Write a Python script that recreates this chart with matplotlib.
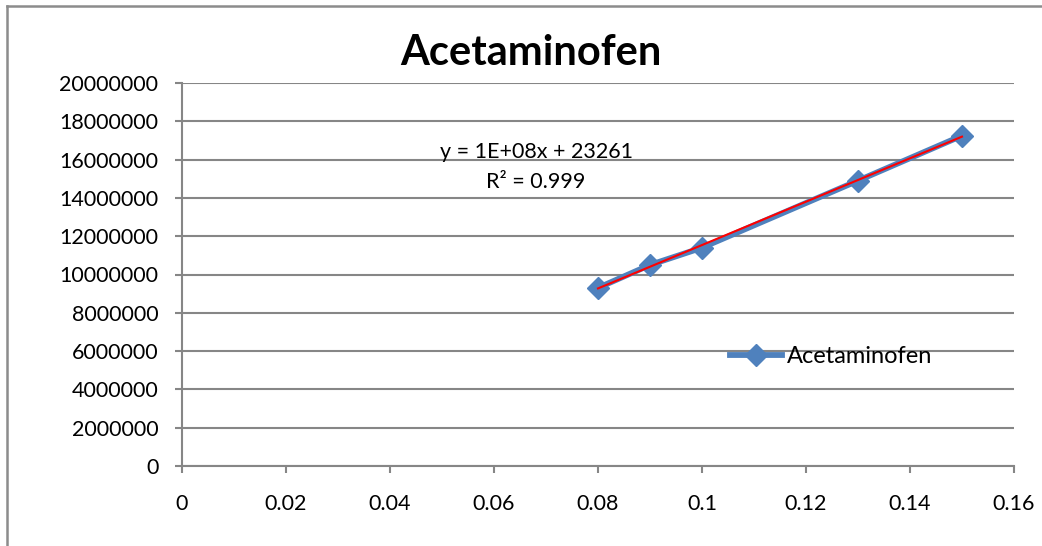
import numpy as np
import matplotlib
matplotlib.use('Agg')
import matplotlib.pyplot as plt
from matplotlib.lines import Line2D

# calibration data
conc = [0.08, 0.09, 0.10, 0.13, 0.15]
area = [9300000, 10500000, 11400000, 14900000, 17250000]
series_name = 'Acetaminofen'
chart_title = 'Acetaminofen'
eq_text = 'y = 1E+08x + 23261'
r2_text = 'R² = 0.999'
x_ticks = [0, 0.02, 0.04, 0.06, 0.08, 0.1, 0.12, 0.14, 0.16]
x_ticklabels = ['0', '0.02', '0.04', '0.06', '0.08', '0.1', '0.12', '0.14', '0.16']
y_ticks = list(range(0, 20000001, 2000000))

BLUE = '#4F81BD'
GRID = '#868686'

plt.rcParams.update({
    'font.family': ['Lato', 'DejaVu Sans'],
    'font.size': 15.5,
    'text.color': 'black',
    'xtick.color': GRID,
    'ytick.color': GRID,
    'xtick.labelcolor': 'black',
    'ytick.labelcolor': 'black',
})

W, H = 1042, 546
fig = plt.figure(figsize=(W / 100, H / 100), dpi=100)
ax = fig.add_axes([182 / W, 1 - 466 / H, 832 / W, 383 / H])

ax.plot(conc, area, color=BLUE, lw=4.2, marker='D', markersize=11,
        markeredgecolor=BLUE, label=series_name, zorder=3)

# linear trend line
slope, icpt = np.polyfit(conc, area, 1)
tx = np.array([min(conc), max(conc)])
ax.plot(tx, slope * tx + icpt, color='#FF0000', lw=1.5, zorder=4)

ax.set_xlim(0, 0.16)
ax.set_ylim(0, 20000000)
ax.set_xticks(x_ticks)
ax.set_xticklabels(x_ticklabels)
ax.set_yticks(y_ticks)
ax.set_yticklabels([str(v) for v in y_ticks])

ax.yaxis.grid(True, color=GRID, lw=1.5)
ax.set_axisbelow(True)
for s in ['top', 'right']:
    ax.spines[s].set_visible(False)
for s in ['left', 'bottom']:
    ax.spines[s].set_color(GRID)
    ax.spines[s].set_linewidth(1.5)
ax.tick_params(axis='x', direction='out', length=5, width=1.5, pad=15)
ax.tick_params(axis='y', direction='out', length=5, width=1.5, pad=12)

fig.text(531 / W, 1 - 53 / H, chart_title, fontsize=30, fontweight='bold',
         ha='center', va='center')
ax.text(0.0681, 16400000, eq_text, fontsize=15.5, ha='center', va='center')
ax.text(0.0681, 14830000, r2_text, fontsize=15.5, ha='center', va='center')

ax.legend(loc='center left', bbox_to_anchor=(0.6587, 0.2846), frameon=False,
          borderpad=0, borderaxespad=0, handlelength=2.2, handletextpad=0.2,
          fontsize=17)

# outer chart border (cut off at right and bottom in the reference)
fig.add_artist(Line2D([7 / W, 7 / W], [0, 1 - 6 / H], color='#8c8c8c', lw=1.8,
                      transform=fig.transFigure))
fig.add_artist(Line2D([7 / W, 1], [1 - 6 / H, 1 - 6 / H], color='#8c8c8c', lw=1.8,
                      transform=fig.transFigure))

fig.savefig('out.png', dpi=100)
